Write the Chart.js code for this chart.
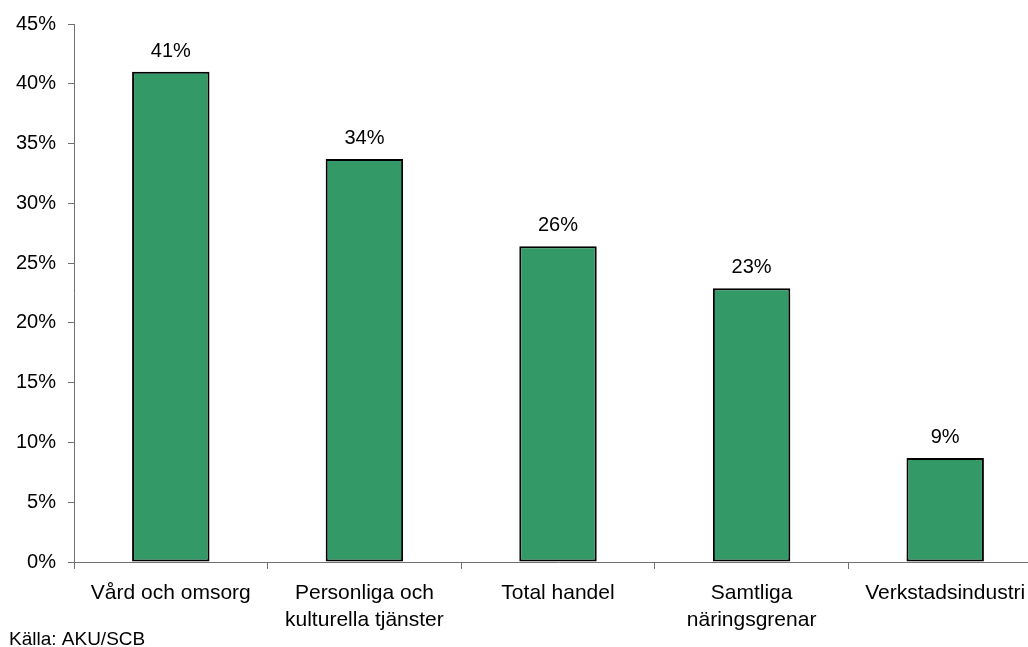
<!DOCTYPE html>
<html>
<head>
<meta charset="utf-8">
<script src="https://cdn.jsdelivr.net/npm/chart.js@4"></script>
<style>
html,body{margin:0;padding:0;background:#fff;overflow:hidden;}
#wrap{width:1045px;height:647px;}
</style>
</head>
<body>
<div id="wrap"><canvas id="c" width="1045" height="647"></canvas></div>
<script>
const categories = [
  "Vård och omsorg",
  ["Personliga och", "kulturella tjänster"],
  "Total handel",
  ["Samtliga", "näringsgrenar"],
  "Verkstadsindustri"
];
const values = [41.0, 33.7, 26.4, 22.9, 8.7];
const yTicks = [0, 5, 10, 15, 20, 25, 30, 35, 40, 45];
const sourceText = "Källa: AKU/SCB";

const FONT = "'Liberation Sans', Arial, sans-serif";

const valueLabels = {
  id: 'valueLabels',
  afterDatasetsDraw(chart) {
    const ctx = chart.ctx;
    const meta = chart.getDatasetMeta(0);
    ctx.save();
    ctx.font = "20px " + FONT;
    ctx.fillStyle = "#000";
    ctx.textAlign = "center";
    ctx.textBaseline = "alphabetic";
    meta.data.forEach((bar, i) => {
      ctx.fillText(Math.round(values[i]) + "%", bar.x, bar.y - 15);
    });
    ctx.restore();
  }
};

const sourcePlugin = {
  id: 'sourcePlugin',
  afterDraw(chart) {
    const ctx = chart.ctx;
    ctx.save();
    ctx.font = "19px " + FONT;
    ctx.fillStyle = "#000";
    ctx.textAlign = "left";
    ctx.textBaseline = "alphabetic";
    ctx.fillText(sourceText, 9, 645);
    ctx.restore();
  }
};

new Chart(document.getElementById('c'), {
  type: 'bar',
  data: {
    labels: categories,
    datasets: [{
      data: values,
      backgroundColor: '#339966',
      borderColor: '#000',
      borderWidth: 2,
      borderSkipped: false,
      barPercentage: 0.4,
      categoryPercentage: 1.0
    }]
  },
  options: {
    responsive: false,
    animation: false,
    devicePixelRatio: 1,
    layout: { padding: { left: 0, right: 3, top: 23, bottom: 0 } },
    plugins: { legend: { display: false }, tooltip: { enabled: false }, title: { display: false } },
    scales: {
      x: {
        grid: { offset: true, drawOnChartArea: false, tickLength: 7, color: '#707070', tickColor: '#707070' },
        border: { color: '#707070', width: 1 },
        ticks: {
          color: '#000',
          font: { family: FONT, size: 21, lineHeight: 1.32 },
          padding: 10,
          maxRotation: 0,
          autoSkip: false
        },
        afterFit(scale) { scale.height = 85; }
      },
      y: {
        min: 0,
        max: 45,
        afterBuildTicks(scale) { scale.ticks = yTicks.map(v => ({ value: v })); },
        grid: { drawOnChartArea: false, tickLength: 6, color: '#707070', tickColor: '#707070' },
        border: { color: '#707070', width: 1 },
        ticks: {
          color: '#000',
          font: { family: FONT, size: 20 },
          padding: 12,
          callback: v => v + '%'
        },
        afterFit(scale) { scale.width = 74; }
      }
    }
  },
  plugins: [valueLabels, sourcePlugin]
});
</script>
</body>
</html>
